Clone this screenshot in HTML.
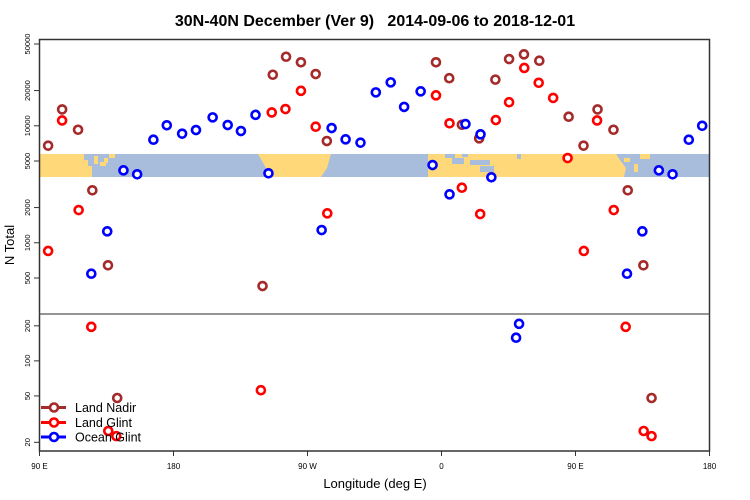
<!DOCTYPE html>
<html><head><meta charset="utf-8"><style>
body{margin:0;background:#fff}
svg{display:block;font-family:"Liberation Sans",sans-serif}
</style></head><body>
<svg id="chart" width="750" height="500" viewBox="0 0 750 500">
<text x="375" y="26" text-anchor="middle" font-size="16" font-weight="bold" style="white-space:pre">30N-40N December (Ver 9)   2014-09-06 to 2018-12-01</text>
<g>
<rect x="39" y="154" width="671" height="23" fill="#a7bddb"/>
<path d="M39 154H84V160H88V166H92V177H39Z" fill="#ffd87a"/>
<path d="M94 156h4v8h-4zM100 162h6v4h-6zM104 158h4v5h-4zM109 154h6v4h-6z" fill="#ffd87a"/>
<path d="M258 154H331L327 168L321 177H271L266 168Z" fill="#ffd87a"/>
<path d="M428 154H616L620 160L626 168L624 177H428Z" fill="#ffd87a"/>
<path d="M445 154h10v4h-10zM452 158h12v6h-12zM470 160h20v5h-20zM480 166h14v6h-14zM462 154h6v3h-6zM517 154h4v5h-4z" fill="#a7bddb"/>
<path d="M624 158h6v4h-6zM634 164h4v8h-4zM640 154h10v5h-10z" fill="#ffd87a"/>
</g>
<g id="axes"></g>
<g id="marks"></g>
<rect x="39.5" y="39.5" width="670" height="411.5" fill="none" stroke="#333" stroke-width="1.5"/>
<line x1="39.5" x2="709.5" y1="314" y2="314" stroke="#555" stroke-width="1.2"/>
<text x="14" y="245" font-size="13" text-anchor="middle" transform="rotate(-90 14 245)">N Total</text>
<text x="375" y="488" font-size="13" text-anchor="middle">Longitude (deg E)</text>
<g>
<g><line x1="41" x2="66" y1="407.5" y2="407.5" stroke="#a52a2a" stroke-width="3"/><circle cx="54" cy="407.5" r="4" fill="#fff" stroke="#a52a2a" stroke-width="2.6"/><text x="75" y="412" font-size="12.5">Land Nadir</text></g>
<g><line x1="41" x2="66" y1="422.5" y2="422.5" stroke="#f00" stroke-width="3"/><circle cx="54" cy="422.5" r="4" fill="#fff" stroke="#f00" stroke-width="2.6"/><text x="75" y="427" font-size="12.5">Land Glint</text></g>
<g><line x1="41" x2="66" y1="437" y2="437" stroke="#00f" stroke-width="3"/><circle cx="54" cy="437" r="4" fill="#fff" stroke="#00f" stroke-width="2.6"/><text x="75" y="441.5" font-size="12.5">Ocean Glint</text></g>
</g>
</svg>
<script>
const xTickVals=[90,180,270,360,450,540];
const xTickLabels=["90 E","180","90 W","0","90 E","180"];
const topTicks=[50000,20000,10000,5000,2000,1000,500];
const botTicks=[200,100,50,20];
const nadirLon=[95.8,105.2,115.9,125.5,136,239.8,246.7,255.6,265.6,275.5,283,356.3,365.2,373.7,385.3,396.2,405.4,415.4,425.7,445.4,455.4,464.8,475.5,485.1,495.6];
const nadirVal=[6760,13800,9250,2810,642,427,27300,38900,34900,27700,7410,34900,25500,10200,7810,24800,37200,40800,36000,11950,6760,13800,9250,2810,642];
const glintLon=[95.8,105.2,116.3,246,255.2,265.6,275.5,283.3,356.3,365.4,373.7,386,396.5,405.4,415.6,425.3,435,444.7,455.6,464.5,475.7];
const glintVal=[851,11100,1905,13000,13900,19900,9820,1785,18200,10500,2955,1760,11200,15900,31200,23300,17300,5300,851,11100,1905];
const oceanLon=[124.8,135.5,146.4,155.6,166.5,175.5,185.8,195.1,206.3,216.4,225.3,235.1,243.8,279.5,286.2,295.6,305.6,315.9,325.9,334.9,346,354,365.4,376.1,386.2,393.5,484.6,494.9,506,515.2,526.1,535.1];
const oceanVal=[544,1253,4160,3850,7600,10100,8560,9200,11800,10150,9020,12400,3925,1285,9570,7660,7170,19300,23500,14500,19700,4620,2595,10350,8450,3630,544,1253,4160,3850,7600,10000];
const lowNadirLon=[142.2,501.1];
const lowNadirVal=[48,48];
const lowGlintLon=[124.8,238.7,136.2,141.6,483.7,495.8,501.1];
const lowGlintVal=[196,56,25,22.6,196,25,22.6];
const lowOceanLon=[410.1,412.1];
const lowOceanVal=[158,208];

const NS="http://www.w3.org/2000/svg";
const X=l=>39.5+(l-90)*(670/450);
const Yt=v=>44+(4.699-Math.log10(v))*117;
const Yb=v=>442.3-(Math.log10(v)-Math.log10(20))*116.5;
function mk(tag,attrs,parent){const e=document.createElementNS(NS,tag);for(const k in attrs)e.setAttribute(k,attrs[k]);parent.appendChild(e);return e;}
const axes=document.getElementById('axes'),marks=document.getElementById('marks');
xTickVals.forEach((v,i)=>{
  const x=X(v);
  const t=mk('line',{x1:x,x2:x,y1:451,y2:456,stroke:'#333'},axes);
  
  
  const tx=mk('text',{x:x,y:469,'font-size':8,'text-anchor':'middle'},axes);
  tx.textContent=xTickLabels[i];
  
  
});
function yTicks(arr,f){arr.forEach(v=>{
  const y=f(v);
  const t=mk('line',{x1:34,x2:39.5,y1:y,y2:y,stroke:'#333'},axes);
  
  
  const tx=mk('text',{x:30,y:y,'font-size':7.5,'text-anchor':'middle',transform:`rotate(-90 30 ${y})`},axes);
  tx.textContent=v;
  
  
});}
yTicks(topTicks,Yt);yTicks(botTicks,Yb);
function pts(lons,vals,f,color,name){lons.forEach((l,i)=>{
  const c=mk('circle',{cx:X(l),cy:f(vals[i]),r:4,fill:'#fff',stroke:color,'stroke-width':2.6},marks);
  
  
});}
pts(nadirLon,nadirVal,Yt,'#a52a2a','land-nadir-point');
pts(glintLon,glintVal,Yt,'#ff0000','land-glint-point');
pts(oceanLon,oceanVal,Yt,'#0000ff','ocean-glint-point');
pts(lowNadirLon,lowNadirVal,Yb,'#a52a2a','land-nadir-point');
pts(lowGlintLon,lowGlintVal,Yb,'#ff0000','land-glint-point');
pts(lowOceanLon,lowOceanVal,Yb,'#0000ff','ocean-glint-point');
</script>
</body></html>
